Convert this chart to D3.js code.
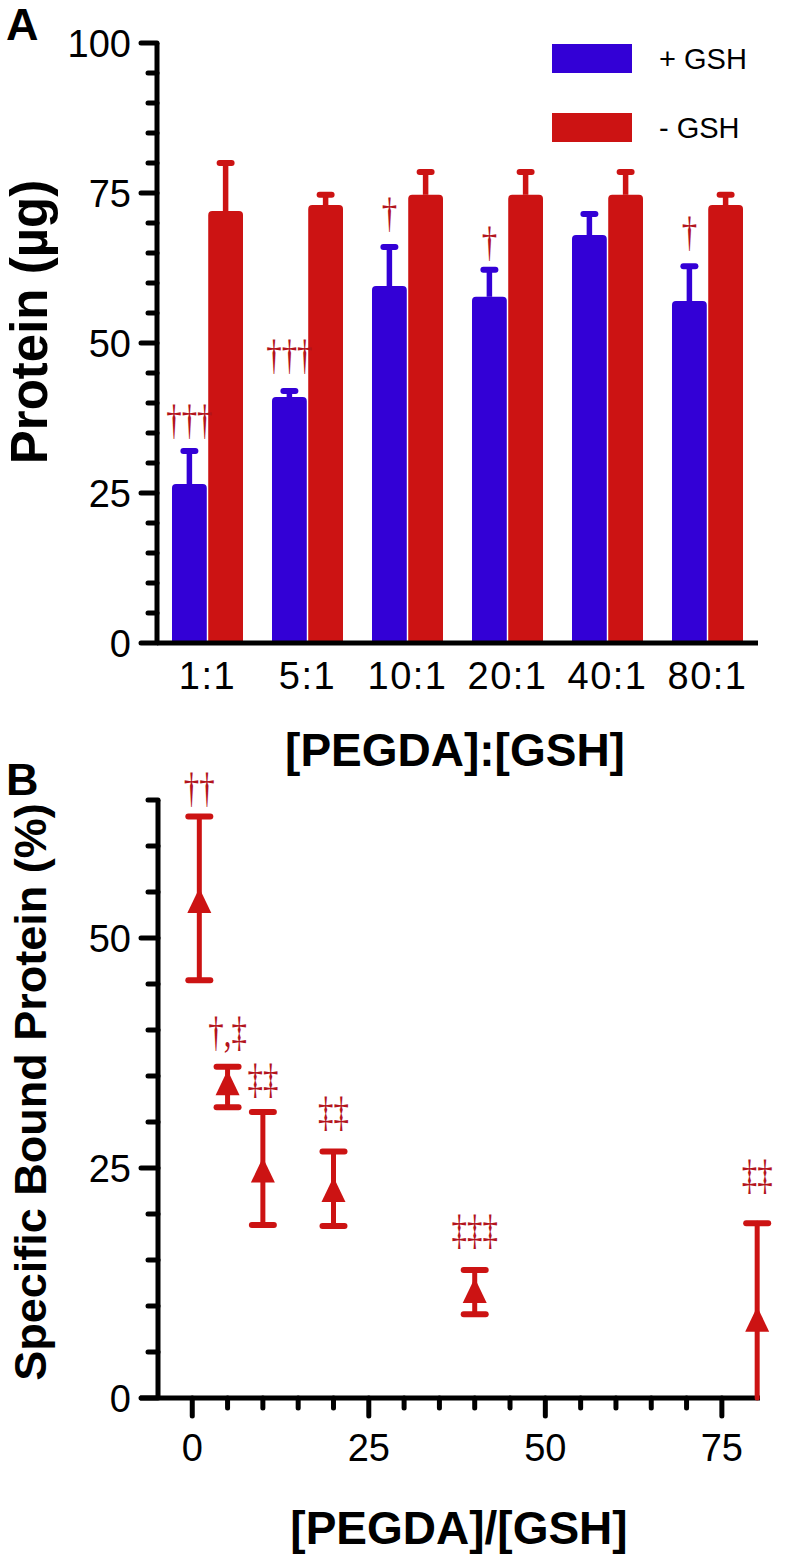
<!DOCTYPE html>
<html><head><meta charset="utf-8">
<script src="https://cdn.jsdelivr.net/npm/d3@7"></script>
<style>body{margin:0;background:#fff} svg{display:block}</style>
</head><body><svg id="c" width="790" height="1557"></svg>
<script>
// ---------- data ----------
const categories = ["1:1","5:1","10:1","20:1","40:1","80:1"];
const seriesNames = ["+ GSH","- GSH"];
const plusGSH = [26.5, 41.0, 59.5, 57.7, 68.0, 57.0];
const plusGSHUpper = [32.0, 42.0, 66.0, 62.2, 71.5, 62.8];
const minusGSH = [72.0, 73.0, 74.7, 74.7, 74.7, 73.0];
const minusGSHUpper = [80.0, 74.7, 78.5, 78.5, 78.5, 74.7];
const sigA = ["†††","†††","†","†","","†"];
const sigALevel = [34.8, 45.7, 69.3, 64.5, 0, 66.2];

const ratioB = [1, 5, 10, 20, 40, 80];
const boundB = [53.8, 34.0, 24.5, 22.4, 11.4, 8.3];
const boundUpper = [63.2, 36.0, 31.1, 26.8, 13.9, 19.0];
const boundLower = [45.4, 31.6, 18.8, 18.7, 9.1, 0];
const sigB = ["††","†,‡","‡‡","‡‡","‡‡‡","‡‡"];
const sigBLevel = [64.8, 38.3, 33.2, 29.6, 16.7, 22.7];

const yTicksA = [0, 25, 50, 75, 100];
const yMinorA = d3.range(0, 101, 5);
const yTicksB = [0, 25, 50];
const yMinorB = d3.range(0, 66, 5);
const xTicksB = [0, 25, 50, 75];
const xMinorB = d3.range(0, 76, 5);

// ---------- style ----------
const BLUE = "#3300d6", RED = "#cc1313", SIG = "#b3141c";
const SANS = "'Liberation Sans', Arial, Helvetica, sans-serif";
const SERIF = "'Liberation Serif', 'DejaVu Serif', serif";
const svg = d3.select("#c");

function sigText(g, x, y, txt) {
  g.append("text").attr("transform", `translate(${x},${y}) scale(0.72,1)`).attr("text-anchor", "middle")
    .attr("font-family", SERIF).attr("font-size", 43).attr("fill", SIG).text(txt);
}

// ---------- panel A ----------
const xA = d3.scaleBand().domain(categories).range([157.5, 757.5]).paddingInner(0.29).paddingOuter(0.145);
const xSub = d3.scaleBand().domain(seriesNames).range([0, xA.bandwidth()]).paddingInner(0.04);
const yA = d3.scaleLinear().domain([0, 100]).range([643, 43]);

function topRoundedBar(x, y, w, h, r) {
  const p = d3.path();
  p.moveTo(x, y + h);
  p.lineTo(x, y + r);
  p.arcTo(x, y, x + r, y, r);
  p.lineTo(x + w - r, y);
  p.arcTo(x + w, y, x + w, y + r, r);
  p.lineTo(x + w, y + h);
  p.closePath();
  return p.toString();
}

const gA = svg.append("g");
const seriesA = [
  {name: seriesNames[0], vals: plusGSH, upper: plusGSHUpper, color: BLUE},
  {name: seriesNames[1], vals: minusGSH, upper: minusGSHUpper, color: RED}
];
seriesA.forEach(s => {
  categories.forEach((c, i) => {
    const x0 = xA(c) + xSub(s.name), w = xSub.bandwidth();
    const cx = x0 + w / 2;
    gA.append("line").attr("x1", cx).attr("x2", cx).attr("y1", yA(s.vals[i])).attr("y2", yA(s.upper[i]))
      .attr("stroke", s.color).attr("stroke-width", 5.5);
    gA.append("line").attr("x1", cx - 6).attr("x2", cx + 6).attr("y1", yA(s.upper[i])).attr("y2", yA(s.upper[i]))
      .attr("stroke", s.color).attr("stroke-width", 6).attr("stroke-linecap", "round");
    gA.append("path").attr("d", topRoundedBar(x0, yA(s.vals[i]), w, yA(0) - yA(s.vals[i]), 4)).attr("fill", s.color);
  });
});
categories.forEach((c, i) => {
  if (!sigA[i]) return;
  const cx = xA(c) + xSub(seriesNames[0]) + xSub.bandwidth() / 2;
  sigText(gA, cx, yA(sigALevel[i]), sigA[i]);
});

// axes A
const axA = gA.append("g").attr("transform", "translate(157,0)");
axA.append("line").attr("x1", 0).attr("x2", 0).attr("y1", yA(100)).attr("y2", yA(0)).attr("stroke", "#000").attr("stroke-width", 5);
yMinorA.forEach(v => {
  const major = yTicksA.includes(v);
  axA.append("line").attr("x1", major ? -16 : -9).attr("x2", 0).attr("y1", yA(v)).attr("y2", yA(v))
    .attr("stroke", "#000").attr("stroke-width", 5).attr("stroke-linecap", "round");
});
yTicksA.forEach(v => {
  axA.append("text").attr("x", -26).attr("y", yA(v)).attr("dy", "0.36em").attr("text-anchor", "end")
    .attr("font-family", SANS).attr("font-size", 38).text(v);
});
gA.append("line").attr("x1", 157).attr("x2", 758).attr("y1", yA(0)).attr("y2", yA(0)).attr("stroke", "#000").attr("stroke-width", 5);
categories.forEach(c => {
  gA.append("text").attr("x", xA(c) + xA.bandwidth() / 2).attr("y", 689).attr("text-anchor", "middle")
    .attr("font-family", SANS).attr("font-size", 38).attr("letter-spacing", 1.5).text(c);
});
gA.append("text").attr("x", 455).attr("y", 766).attr("text-anchor", "middle").attr("font-family", SANS)
  .attr("font-weight", "bold").attr("font-size", 46).text("[PEGDA]:[GSH]");
gA.append("text").attr("transform", "translate(47,322) rotate(-90)").attr("text-anchor", "middle")
  .attr("font-family", SANS).attr("font-weight", "bold").attr("font-size", 51).text("Protein (µg)");
gA.append("text").attr("x", 6).attr("y", 40).attr("font-family", SANS).attr("font-weight", "bold").attr("font-size", 45).text("A");

// legend
seriesA.forEach((s, i) => {
  const y0 = 44 + i * 69;
  gA.append("rect").attr("x", 552).attr("y", y0).attr("width", 80).attr("height", 29).attr("fill", s.color);
  gA.append("text").attr("x", 659).attr("y", y0 + 25).attr("font-family", SANS).attr("font-size", 29).text(s.name);
});

// ---------- panel B ----------
const xB = d3.scaleLinear().domain([-7.4, 80.4]).range([140, 760]);
const yB = d3.scaleLinear().domain([0, 65]).range([1398, 800]);
const gB = svg.append("g");

gB.append("line").attr("x1", 158).attr("x2", 158).attr("y1", yB(65)).attr("y2", yB(0)).attr("stroke", "#000").attr("stroke-width", 5);
yMinorB.forEach(v => {
  const major = yTicksB.includes(v);
  gB.append("line").attr("x1", major ? 141 : 148).attr("x2", 158).attr("y1", yB(v)).attr("y2", yB(v))
    .attr("stroke", "#000").attr("stroke-width", 5).attr("stroke-linecap", "round");
});
yTicksB.forEach(v => {
  gB.append("text").attr("x", 131).attr("y", yB(v)).attr("dy", "0.36em").attr("text-anchor", "end")
    .attr("font-family", SANS).attr("font-size", 38).text(v);
});
gB.append("line").attr("x1", xB.range()[0]).attr("x2", xB.range()[1]).attr("y1", yB(0)).attr("y2", yB(0))
  .attr("stroke", "#000").attr("stroke-width", 5);
xMinorB.forEach(v => {
  const major = xTicksB.includes(v);
  gB.append("line").attr("x1", xB(v)).attr("x2", xB(v)).attr("y1", yB(0)).attr("y2", yB(0) + (major ? 18 : 10))
    .attr("stroke", "#000").attr("stroke-width", 5).attr("stroke-linecap", "round");
});
xTicksB.forEach(v => {
  gB.append("text").attr("x", xB(v)).attr("y", 1461).attr("text-anchor", "middle")
    .attr("font-family", SANS).attr("font-size", 38).text(v);
});

ratioB.forEach((r, i) => {
  const cx = xB(r);
  gB.append("line").attr("x1", cx).attr("x2", cx).attr("y1", yB(boundLower[i])).attr("y2", yB(boundUpper[i]))
    .attr("stroke", RED).attr("stroke-width", 5).attr("stroke-linecap", boundLower[i] <= 0 ? "round" : "butt");
  [boundUpper[i], boundLower[i]].forEach(v => {
    if (v <= 0) return;
    gB.append("line").attr("x1", cx - 11).attr("x2", cx + 11).attr("y1", yB(v)).attr("y2", yB(v))
      .attr("stroke", RED).attr("stroke-width", 6).attr("stroke-linecap", "round");
  });
  const cy = yB(boundB[i]);
  gB.append("path").attr("d", `M${cx},${cy - 15}L${cx + 12},${cy + 10}L${cx - 12},${cy + 10}Z`).attr("fill", RED);
  sigText(gB, cx, yB(sigBLevel[i]), sigB[i]);
});

gB.append("text").attr("x", 459).attr("y", 1544).attr("text-anchor", "middle").attr("font-family", SANS)
  .attr("font-weight", "bold").attr("font-size", 46).text("[PEGDA]/[GSH]");
gB.append("text").attr("transform", "translate(46,1092) rotate(-90)").attr("text-anchor", "middle")
  .attr("font-family", SANS).attr("font-weight", "bold").attr("font-size", 45).text("Specific Bound Protein (%)");
gB.append("text").attr("x", 6).attr("y", 795).attr("font-family", SANS).attr("font-weight", "bold").attr("font-size", 45).text("B");
</script></body></html>
